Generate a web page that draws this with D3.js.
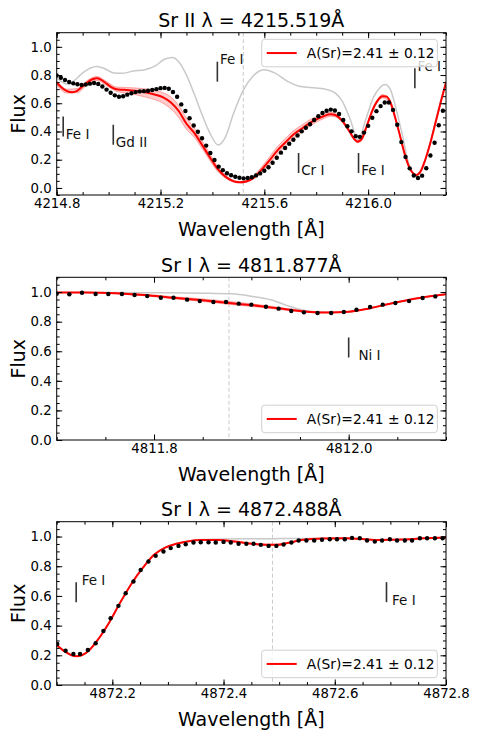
<!DOCTYPE html>
<html>
<head>
<meta charset="utf-8">
<script src="https://cdn.jsdelivr.net/npm/d3@7"></script>
<style>
  body { margin: 0; background: #fff; }
  svg { display: block; font-family: "DejaVu Sans", sans-serif; }
</style>
</head>
<body>
<svg id="chart" width="478" height="740"></svg>
<script>
"use strict";

// ---- panel 1 : Sr II 4215.519 ----
const obs1 = [
  [4214.800,0.797],[4214.816,0.781],[4214.832,0.765],[4214.848,0.751],[4214.864,0.741],[4214.880,0.735],[4214.896,0.730],[4214.912,0.733],[4214.928,0.739],[4214.944,0.744],
  [4214.960,0.737],[4214.976,0.719],[4214.992,0.697],[4215.008,0.674],[4215.024,0.656],[4215.040,0.646],[4215.056,0.650],[4215.072,0.661],[4215.088,0.671],[4215.104,0.679],
  [4215.120,0.684],[4215.136,0.686],[4215.152,0.689],[4215.168,0.694],[4215.184,0.700],[4215.200,0.707],[4215.216,0.709],[4215.232,0.703],[4215.248,0.680],[4215.264,0.646],
  [4215.280,0.592],[4215.296,0.545],[4215.312,0.494],[4215.328,0.442],[4215.344,0.398],[4215.360,0.352],[4215.376,0.300],[4215.392,0.248],[4215.408,0.198],[4215.424,0.151],
  [4215.440,0.126],[4215.456,0.104],[4215.472,0.090],[4215.488,0.079],[4215.504,0.072],[4215.520,0.068],[4215.536,0.070],[4215.552,0.076],[4215.568,0.089],[4215.584,0.103],
  [4215.600,0.122],[4215.616,0.147],[4215.632,0.178],[4215.648,0.214],[4215.664,0.250],[4215.680,0.283],[4215.696,0.313],[4215.712,0.341],[4215.728,0.372],[4215.744,0.401],
  [4215.760,0.427],[4215.776,0.451],[4215.792,0.481],[4215.808,0.508],[4215.824,0.531],[4215.840,0.547],[4215.856,0.555],[4215.872,0.549],[4215.888,0.524],[4215.904,0.481],
  [4215.920,0.437],[4215.936,0.401],[4215.952,0.367],[4215.968,0.362],[4215.984,0.392],[4216.000,0.440],[4216.016,0.497],[4216.032,0.544],[4216.048,0.580],[4216.064,0.605],
  [4216.080,0.605],[4216.096,0.553],[4216.112,0.448],[4216.128,0.325],[4216.144,0.220],[4216.160,0.139],[4216.176,0.088],[4216.192,0.070],[4216.208,0.087],[4216.224,0.140],
  [4216.240,0.230],[4216.256,0.320],[4216.272,0.444],[4216.288,0.547]
];
const fit1 = [
  [4214.800,0.745],[4214.820,0.710],[4214.840,0.686],[4214.860,0.678],[4214.880,0.690],[4214.900,0.720],[4214.920,0.750],[4214.940,0.772],[4214.955,0.777],[4214.970,0.768],
  [4214.990,0.742],[4215.010,0.715],[4215.030,0.700],[4215.060,0.695],[4215.090,0.690],[4215.120,0.685],[4215.150,0.674],[4215.180,0.660],[4215.210,0.642],[4215.240,0.605],
  [4215.270,0.545],[4215.300,0.455],[4215.330,0.390],[4215.360,0.305],[4215.390,0.218],[4215.420,0.135],[4215.450,0.080],[4215.480,0.048],[4215.505,0.040],[4215.530,0.046],
  [4215.560,0.075],[4215.590,0.130],[4215.620,0.195],[4215.650,0.265],[4215.680,0.320],[4215.710,0.375],[4215.740,0.415],[4215.770,0.455],[4215.800,0.485],[4215.830,0.510],
  [4215.855,0.522],[4215.875,0.515],[4215.900,0.475],[4215.925,0.410],[4215.945,0.350],[4215.960,0.328],[4215.975,0.345],[4215.995,0.440],[4216.015,0.545],[4216.035,0.615],
  [4216.055,0.650],[4216.070,0.648],[4216.085,0.610],[4216.100,0.525],[4216.120,0.390],[4216.140,0.245],[4216.160,0.140],[4216.175,0.100],[4216.185,0.090],[4216.200,0.110],
  [4216.220,0.200],[4216.240,0.320],[4216.260,0.465],[4216.280,0.610],[4216.300,0.745]
];
// [wavelength, A(Sr)+0.12, A(Sr)-0.12]
const band1 = [
  [4214.800,0.730,0.760],[4214.840,0.672,0.700],[4214.880,0.675,0.705],[4214.920,0.735,0.765],[4214.955,0.762,0.790],[4214.990,0.727,0.757],
  [4215.030,0.685,0.715],[4215.090,0.665,0.710],[4215.150,0.640,0.700],[4215.210,0.600,0.675],[4215.240,0.560,0.645],[4215.270,0.500,0.585],
  [4215.300,0.415,0.495],[4215.330,0.360,0.425],[4215.360,0.280,0.335],[4215.390,0.195,0.243],[4215.420,0.118,0.152],[4215.450,0.070,0.090],
  [4215.480,0.042,0.055],[4215.505,0.035,0.046],[4215.530,0.040,0.053],[4215.560,0.063,0.088],[4215.590,0.110,0.150],[4215.620,0.170,0.220],
  [4215.650,0.237,0.292],[4215.680,0.292,0.348],[4215.710,0.348,0.402],[4215.740,0.390,0.440],[4215.770,0.432,0.478],[4215.800,0.465,0.505],
  [4215.830,0.492,0.528],[4215.855,0.508,0.536],[4215.875,0.503,0.527],[4215.900,0.465,0.485],[4215.925,0.402,0.418],[4215.960,0.320,0.336],
  [4215.995,0.432,0.448],[4216.035,0.605,0.625],[4216.055,0.638,0.662],[4216.085,0.600,0.620],[4216.120,0.383,0.397],[4216.160,0.134,0.146],
  [4216.185,0.085,0.095],[4216.220,0.195,0.205],[4216.260,0.460,0.470],[4216.300,0.740,0.750]
];
const noSr1 = [
  [4214.800,0.779],[4214.820,0.752],[4214.845,0.735],[4214.870,0.765],[4214.900,0.815],[4214.930,0.850],[4214.955,0.861],[4214.985,0.845],[4215.020,0.815],[4215.050,0.812],
  [4215.095,0.828],[4215.140,0.838],[4215.180,0.865],[4215.215,0.912],[4215.245,0.925],[4215.270,0.895],[4215.300,0.800],[4215.330,0.665],[4215.360,0.520],[4215.390,0.390],
  [4215.422,0.305],[4215.450,0.360],[4215.480,0.520],[4215.518,0.690],[4215.555,0.790],[4215.600,0.838],[4215.640,0.815],[4215.690,0.755],[4215.740,0.718],[4215.800,0.708],
  [4215.840,0.698],[4215.875,0.670],[4215.900,0.615],[4215.930,0.490],[4215.962,0.340],[4215.990,0.480],[4216.020,0.640],[4216.045,0.710],[4216.065,0.733],[4216.085,0.700],
  [4216.105,0.580],[4216.130,0.390],[4216.160,0.150],[4216.185,0.095],[4216.210,0.140],[4216.240,0.330],[4216.270,0.550],[4216.300,0.755]
];
const marks1 = [["Fe I",4214.825],["Gd II",4215.018],["Fe I",4215.419],["Cr I",4215.732],["Fe I",4215.963],["Fe I",4216.180]];

// ---- panel 2 : Sr I 4811.877 ----
const obs2 = [
  [4811.700,0.989],[4811.713,0.985],[4811.726,0.996],[4811.740,0.987],[4811.753,0.987],[4811.767,0.987],[4811.780,0.980],[4811.793,0.973],[4811.807,0.962],[4811.820,0.962],
  [4811.834,0.949],[4811.847,0.939],[4811.861,0.933],[4811.874,0.933],[4811.887,0.922],[4811.900,0.915],[4811.915,0.901],[4811.928,0.888],[4811.941,0.872],[4811.954,0.863],
  [4811.968,0.859],[4811.982,0.859],[4811.995,0.865],[4812.008,0.881],[4812.022,0.899],[4812.035,0.915],[4812.048,0.926],[4812.062,0.939],[4812.076,0.960],[4812.089,0.971]
];
const fit2 = [
  [4811.700,0.997],[4811.730,0.997],[4811.760,0.993],[4811.790,0.980],[4811.820,0.962],[4811.850,0.945],[4811.880,0.925],[4811.910,0.905],[4811.940,0.880],
  [4811.960,0.866],[4811.980,0.862],[4812.000,0.867],[4812.020,0.888],[4812.040,0.918],[4812.060,0.945],[4812.080,0.968],[4812.100,0.985]
];
const band2 = [
  [4811.700,0.996,0.998],[4811.730,0.996,0.998],[4811.760,0.990,0.995],[4811.790,0.975,0.985],[4811.820,0.955,0.969],[4811.850,0.936,0.954],
  [4811.880,0.915,0.935],[4811.910,0.897,0.913],[4811.940,0.874,0.886],[4811.960,0.862,0.870],[4811.980,0.860,0.864],[4812.000,0.865,0.869],
  [4812.020,0.886,0.890],[4812.040,0.916,0.920],[4812.060,0.944,0.946],[4812.080,0.967,0.969],[4812.100,0.984,0.986]
];
const noSr2 = [
  [4811.700,0.998],[4811.750,0.998],[4811.800,0.996],[4811.850,0.993],[4811.880,0.988],[4811.900,0.972],[4811.920,0.948],[4811.940,0.902],
  [4811.955,0.875],[4811.975,0.863],[4812.000,0.867],[4812.020,0.888],[4812.040,0.918],[4812.060,0.945],[4812.080,0.968],[4812.100,0.985]
];
const marks2 = [["Ni I",4812.000]];

// ---- panel 3 : Sr I 4872.488 ----
const obs3 = [
  [4872.101,0.276],[4872.116,0.231],[4872.130,0.209],[4872.142,0.209],[4872.156,0.236],[4872.170,0.281],[4872.184,0.364],[4872.197,0.450],[4872.211,0.533],[4872.224,0.618],
  [4872.238,0.697],[4872.251,0.775],[4872.265,0.832],[4872.278,0.870],[4872.292,0.899],[4872.305,0.922],[4872.319,0.937],[4872.332,0.948],[4872.346,0.960],[4872.359,0.962],
  [4872.373,0.962],[4872.386,0.960],[4872.400,0.964],[4872.413,0.960],[4872.427,0.951],[4872.441,0.951],[4872.454,0.951],[4872.467,0.944],[4872.481,0.937],[4872.495,0.937],
  [4872.508,0.946],[4872.522,0.960],[4872.535,0.973],[4872.549,0.973],[4872.563,0.973],[4872.577,0.978],[4872.591,0.982],[4872.604,0.982],[4872.618,0.982],[4872.631,0.991],
  [4872.645,0.989],[4872.658,0.973],[4872.672,0.966],[4872.685,0.973],[4872.699,0.982],[4872.712,0.973],[4872.726,0.973],[4872.739,0.973],[4872.753,0.989],[4872.766,0.989],
  [4872.780,0.989],[4872.794,0.989]
];
const fit3 = [
  [4872.100,0.270],[4872.115,0.225],[4872.135,0.193],[4872.155,0.222],[4872.175,0.310],[4872.195,0.425],[4872.215,0.560],[4872.235,0.685],[4872.255,0.790],
  [4872.275,0.877],[4872.295,0.925],[4872.315,0.952],[4872.335,0.967],[4872.360,0.977],[4872.390,0.977],[4872.420,0.966],[4872.450,0.952],[4872.475,0.945],
  [4872.495,0.944],[4872.515,0.956],[4872.540,0.976],[4872.580,0.987],[4872.620,0.989],[4872.650,0.983],[4872.680,0.977],[4872.720,0.980],[4872.760,0.988],[4872.800,0.993]
];
const band3 = [
  [4872.100,0.269,0.271],[4872.115,0.224,0.226],[4872.135,0.192,0.194],[4872.155,0.221,0.223],[4872.175,0.309,0.311],[4872.195,0.424,0.426],
  [4872.215,0.559,0.561],[4872.235,0.684,0.686],[4872.255,0.789,0.791],[4872.275,0.876,0.878],[4872.295,0.924,0.926],[4872.315,0.951,0.953],
  [4872.335,0.966,0.968],[4872.360,0.976,0.978],[4872.390,0.975,0.979],[4872.420,0.964,0.968],[4872.450,0.949,0.955],[4872.475,0.941,0.949],
  [4872.495,0.940,0.948],[4872.515,0.953,0.959],[4872.540,0.975,0.977],[4872.580,0.986,0.988],[4872.620,0.988,0.990],[4872.650,0.982,0.984],
  [4872.680,0.976,0.978],[4872.720,0.979,0.981],[4872.760,0.987,0.989],[4872.800,0.992,0.994]
];
const noSr3 = [
  [4872.100,0.270],[4872.115,0.225],[4872.135,0.193],[4872.155,0.222],[4872.175,0.310],[4872.195,0.425],[4872.215,0.560],[4872.235,0.685],[4872.255,0.790],
  [4872.275,0.877],[4872.295,0.925],[4872.315,0.952],[4872.335,0.968],[4872.360,0.980],[4872.400,0.984],[4872.450,0.985],[4872.500,0.986],[4872.550,0.987],
  [4872.580,0.988],[4872.620,0.989],[4872.650,0.983],[4872.680,0.977],[4872.720,0.980],[4872.760,0.988],[4872.800,0.993]
];
const marks3 = [["Fe I",4872.135],["Fe I",4872.693]];

const yTicks = [0.0, 0.2, 0.4, 0.6, 0.8, 1.0];
const legendText = "A(Sr)=2.41 \u00b1 0.12";

const panels = [
  { title: "Sr II \u03bb = 4215.519\u00c5", center: 4215.519, xDomain: [4214.8, 4216.3], xTicks: [4214.8, 4215.2, 4215.6, 4216.0], minorStep: 0.1,
    yDomain: [-0.05, 1.1], top: 32.7, bottom: 195, obs: obs1, fit: fit1, band: band1, noSr: noSr1, marks: marks1,
    markLevel: [0.364, 0.306, 0.753, 0.106, 0.106, 0.706], markSide: ["dn", "dn", "up", "dn", "dn", "up"], legendTop: true },
  { title: "Sr I \u03bb = 4811.877\u00c5", center: 4811.877, xDomain: [4811.7, 4812.1], xTicks: [4811.8, 4812.0], minorStep: 0.05,
    yDomain: [0, 1.1], top: 277.3, bottom: 440, obs: obs2, fit: fit2, band: band2, noSr: noSr2, marks: marks2,
    markLevel: [0.558], markSide: ["dn"], legendTop: false },
  { title: "Sr I \u03bb = 4872.488\u00c5", center: 4872.488, xDomain: [4872.1, 4872.8], xTicks: [4872.2, 4872.4, 4872.6, 4872.8], minorStep: 0.05,
    yDomain: [0, 1.1], top: 521.7, bottom: 685, obs: obs3, fit: fit3, band: band3, noSr: noSr3, marks: marks3,
    markLevel: [0.558, 0.558], markSide: ["up", "dn"], legendTop: false }
];

const svg = d3.select("#chart");
const L = 56.7, R = 446;
const MAJ = 5.5, MIN = 3;

panels.forEach(drawPanel);

function drawPanel(p, i) {
  const g = svg.append("g");
  const x = d3.scaleLinear().domain(p.xDomain).range([L, R]);
  const y = d3.scaleLinear().domain(p.yDomain).range([p.bottom, p.top]);

  const clipId = "clip" + i;
  g.append("clipPath").attr("id", clipId)
    .append("rect").attr("x", L).attr("y", p.top).attr("width", R - L).attr("height", p.bottom - p.top);
  const plot = g.append("g").attr("clip-path", "url(#" + clipId + ")");

  // line centre
  plot.append("line")
    .attr("x1", x(p.center)).attr("x2", x(p.center))
    .attr("y1", p.top).attr("y2", p.bottom)
    .attr("stroke", "#c4c4c4").attr("stroke-width", 0.9).attr("stroke-dasharray", "4,2.5");

  const line = d3.line().x(d => x(d[0])).y(d => y(d[1])).curve(d3.curveMonotoneX);

  // synthesis without Sr
  plot.append("path").datum(p.noSr).attr("d", line)
    .attr("fill", "none").attr("stroke", "#c9c9c9").attr("stroke-width", 1.5);

  // uncertainty band
  const area = d3.area().x(d => x(d[0])).y0(d => y(d[1])).y1(d => y(d[2])).curve(d3.curveMonotoneX);
  plot.append("path").datum(p.band).attr("d", area)
    .attr("fill", "#ff0000").attr("fill-opacity", 0.2);
  [1, 2].forEach(k => {
    plot.append("path").datum(p.band)
      .attr("d", d3.line().x(d => x(d[0])).y(d => y(d[k])).curve(d3.curveMonotoneX))
      .attr("fill", "none").attr("stroke", "#ff0000").attr("stroke-opacity", 0.3).attr("stroke-width", 1);
  });

  // best fit
  plot.append("path").datum(p.fit).attr("d", line)
    .attr("fill", "none").attr("stroke", "#ff0000").attr("stroke-width", 2);

  // observed spectrum
  plot.selectAll("circle").data(p.obs).enter().append("circle")
    .attr("cx", d => x(d[0])).attr("cy", d => y(d[1])).attr("r", 2.2)
    .attr("fill", "#000");

  // identified lines
  p.marks.forEach((m, k) => {
    const x0 = x(m[1]), yb = y(p.markLevel[k]), yt = yb - 20;
    g.append("line").attr("x1", x0).attr("x2", x0).attr("y1", yt).attr("y2", yb)
      .attr("stroke", "#333").attr("stroke-width", 1.6);
    g.append("text").attr("x", x(m[1] + 0.01)).attr("y", p.markSide[k] === "up" ? yt + 2.5 : yb + 2.5)
      .attr("font-size", 13.5).attr("fill", "#111").text(m[0]);
  });

  // axes, ticks pointing inwards on all four sides
  const minor = d3.range(Math.ceil(p.xDomain[0] / p.minorStep - 1e-6), Math.floor(p.xDomain[1] / p.minorStep + 1e-6) + 1)
    .map(v => +(v * p.minorStep).toFixed(3));
  const yMinor = d3.range(Math.ceil(p.yDomain[0] / 0.05 - 1e-6), Math.floor(p.yDomain[1] / 0.05 + 1e-6) + 1)
    .map(v => +(v * 0.05).toFixed(2));
  const fmt = d3.format(".1f");

  const axes = [
    [d3.axisBottom(x).tickValues(p.xTicks).tickFormat(fmt).tickSizeInner(-MAJ).tickPadding(4), p.bottom, 0],
    [d3.axisBottom(x).tickValues(minor).tickFormat("").tickSizeInner(-MIN), p.bottom, 0],
    [d3.axisTop(x).tickValues(p.xTicks).tickFormat("").tickSizeInner(-MAJ), p.top, 0],
    [d3.axisTop(x).tickValues(minor).tickFormat("").tickSizeInner(-MIN), p.top, 0],
    [d3.axisLeft(y).tickValues(yTicks).tickFormat(fmt).tickSizeInner(-MAJ).tickPadding(5), 0, L],
    [d3.axisLeft(y).tickValues(yMinor).tickFormat("").tickSizeInner(-MIN), 0, L],
    [d3.axisRight(y).tickValues(yTicks).tickFormat("").tickSizeInner(-MAJ), 0, R],
    [d3.axisRight(y).tickValues(yMinor).tickFormat("").tickSizeInner(-MIN), 0, R]
  ];
  axes.forEach(a => {
    const ag = g.append("g").attr("transform", "translate(" + a[2] + "," + a[1] + ")")
      .call(a[0].tickSizeOuter(0));
    ag.select(".domain").remove();
    ag.selectAll("text").attr("font-family", "DejaVu Sans").attr("font-size", 13.3).attr("fill", "#000");
  });

  g.append("rect").attr("x", L).attr("y", p.top).attr("width", R - L).attr("height", p.bottom - p.top)
    .attr("fill", "none").attr("stroke", "#000").attr("stroke-width", 1);

  // labels
  g.append("text").attr("x", (L + R) / 2).attr("y", p.top - 5.5).attr("text-anchor", "middle")
    .attr("font-size", 19).text(p.title);
  g.append("text").attr("x", (L + R) / 2).attr("y", p.bottom + 41).attr("text-anchor", "middle")
    .attr("font-size", 19).text("Wavelength [\u00c5]");
  g.append("text").attr("transform", "translate(25," + ((p.top + p.bottom) / 2) + ") rotate(-90)")
    .attr("text-anchor", "middle").attr("font-size", 19).text("Flux");

  // legend (semi-transparent, drawn over the line labels as in the original)
  const lw = 175.6, lh = 27.5;
  const ly = p.legendTop ? p.top + 6.6 : p.bottom - 7.3 - lh;
  const lx = R - 8.7 - lw;
  const lg = g.append("g");
  lg.append("rect").attr("x", lx).attr("y", ly).attr("width", lw).attr("height", lh).attr("rx", 3)
    .attr("fill", "#fff").attr("fill-opacity", 0.8).attr("stroke", "#d0d0d0").attr("stroke-width", 1);
  lg.append("line").attr("x1", lx + 5).attr("x2", lx + 35).attr("y1", ly + lh / 2).attr("y2", ly + lh / 2)
    .attr("stroke", "#ff0000").attr("stroke-width", 2);
  lg.append("text").attr("x", lx + 45).attr("y", ly + lh / 2 + 5).attr("font-size", 13.8).text(legendText);
}
</script>
</body>
</html>
